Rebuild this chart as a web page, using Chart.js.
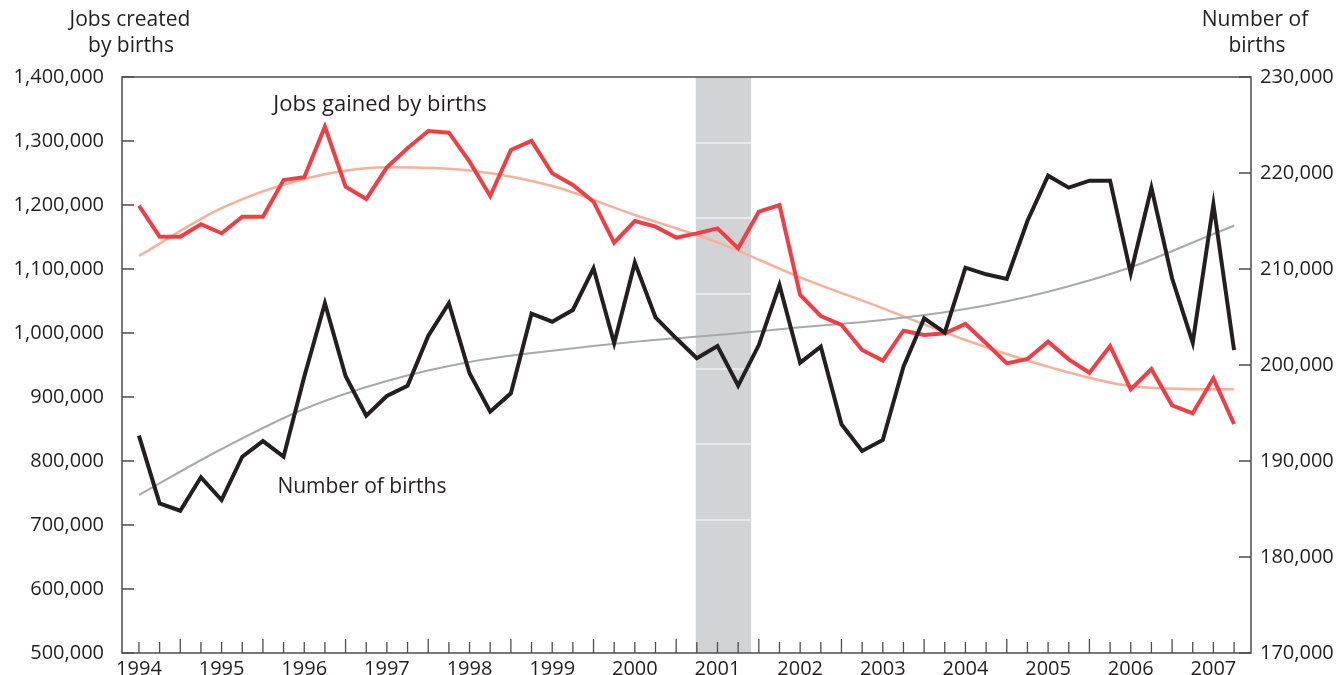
<!DOCTYPE html>
<html>
<head>
<meta charset="utf-8">
<script src="https://cdn.jsdelivr.net/npm/chart.js@4/dist/chart.umd.min.js"></script>
<style>
  html, body { margin: 0; padding: 0; background: #fff; }
  #wrap { width: 1344px; height: 675px; position: relative; }
</style>
</head>
<body>
<div id="wrap"><canvas id="chart"></canvas></div>
<script>
// year labels, one per four quarters (1994 Q1 ... 2007 Q2)
var yearLabels = ['1994', '1995', '1996', '1997', '1998', '1999', '2000',
                  '2001', '2002', '2003', '2004', '2005', '2006', '2007'];

// jobs created by establishment births (left axis), quarterly
var jobsGained = [
    1199000, 1150500, 1150500, 1169900, 1155800, 1181800, 1181800, 1239000,
    1243300, 1322400, 1228700, 1209400, 1258900, 1288600, 1315600, 1313000,
    1267700, 1214100, 1285900, 1300300, 1249500, 1231300, 1205200, 1141100,
    1175000, 1166100, 1149000, 1155700, 1163500, 1132300, 1189600, 1200000,
    1059400, 1026600, 1012500, 973400, 956800, 1003600, 996900, 999500,
    1014100, 983900, 952600, 959400, 986500, 958900, 937900, 979700,
    912000, 943750, 887000, 874500, 929200, 857800
];

// number of establishment births (right axis), quarterly
var births = [
    192640, 185590, 184820, 188300, 185940, 190450, 192080, 190450,
    198780, 206430, 198850, 194720, 196770, 197840, 203020, 206430,
    199140, 195140, 197050, 205350, 204510, 205730, 210070, 202260,
    210660, 204970, 202780, 200700, 201980, 197840, 202080, 208330,
    200240, 201910, 193820, 191040, 192190, 199830, 204860, 203370,
    210140, 209450, 208960, 215000, 219720, 218470, 219200, 219200,
    209550, 218470, 209030, 202330, 216740, 201560
];

// trend lines, read at every fourth quarter
var trendQuarters = [0, 4, 8, 12, 16, 20, 24, 28, 32, 36, 40, 44, 48, 52, 53];
var jobsTrend = [1120300, 1195000, 1240600, 1258900, 1253900, 1229700, 1184400,
                 1141700, 1087000, 1038600, 989000, 947400, 917200, 912000, 912000];
var birthsTrend = [186460, 191250, 195420, 198330, 200310, 201490, 202430,
                   203120, 203930, 204690, 205830, 207640, 210180, 213650, 214510];

// 2001 recession band, in quarter positions
var recession = [26.95, 29.63];
var bandLines = [1296900, 1179700, 1060900, 943750, 826600, 707800];

var leftTicks = [500000, 600000, 700000, 800000, 900000, 1000000, 1100000, 1200000, 1300000, 1400000];
var rightTicks = [170000, 180000, 190000, 200000, 210000, 220000, 230000];

var FONT = '"Open Sans", "Noto Sans", sans-serif';
var INK = '#231f20';
var FRAME = '#4d4d4f';

var quarters = jobsGained.map(function(_, i) { return i; });

function pts(values, xs) {
    return values.map(function(v, i) { return {x: xs ? xs[i] : i, y: v}; });
}

// fixed axis sizes; y axes must not push the plot area in
function fixWidth(w) {
    return function(scale) {
        scale.width = w;
        scale.paddingTop = 0;
        scale.paddingBottom = 0;
    };
}

var decorPlugin = {
    id: 'decor',
    beforeDatasetsDraw: function(chart) {
        var ctx = chart.ctx, a = chart.chartArea;
        var x = chart.scales.x, yl = chart.scales.yLeft;
        var x0 = x.getPixelForValue(recession[0]);
        var x1 = x.getPixelForValue(recession[1]);
        ctx.save();
        ctx.fillStyle = '#d1d3d4';
        ctx.fillRect(x0, a.top, x1 - x0, a.bottom - a.top);
        ctx.strokeStyle = '#ffffff';
        ctx.lineWidth = 1.2;
        bandLines.forEach(function(v) {
            var y = yl.getPixelForValue(v);
            ctx.beginPath();
            ctx.moveTo(x0, y);
            ctx.lineTo(x1, y);
            ctx.stroke();
        });
        ctx.restore();
    },
    afterDraw: function(chart) {
        var ctx = chart.ctx, a = chart.chartArea;
        var x = chart.scales.x, yl = chart.scales.yLeft, yr = chart.scales.yRight;
        ctx.save();
        ctx.strokeStyle = FRAME;
        ctx.lineWidth = 1.5;
        ctx.strokeRect(a.left, a.top, a.right - a.left, a.bottom - a.top);

        // inward tick marks
        ctx.lineWidth = 1.3;
        ctx.beginPath();
        leftTicks.forEach(function(v) {
            var y = yl.getPixelForValue(v);
            ctx.moveTo(a.left, y); ctx.lineTo(a.left + 12, y);
        });
        rightTicks.forEach(function(v) {
            var y = yr.getPixelForValue(v);
            ctx.moveTo(a.right - 12, y); ctx.lineTo(a.right, y);
        });
        quarters.forEach(function(q) {
            var px = x.getPixelForValue(q);
            var len = (q % 4 === 2) ? 14 : 11;
            ctx.moveTo(px, a.bottom); ctx.lineTo(px, a.bottom - len);
        });
        ctx.stroke();

        // axis titles and series labels
        ctx.fillStyle = INK;
        ctx.font = '21px ' + FONT;
        ctx.textBaseline = 'middle';
        ctx.textAlign = 'center';
        ctx.fillText('Jobs created', 130, 20);
        ctx.fillText('by births', 131, 46);
        ctx.fillText('Number of', 1255, 20);
        ctx.fillText('births', 1257, 46);

        ctx.textAlign = 'left';
        ctx.font = '22px ' + FONT;
        ctx.fillText('Jobs gained by births', x.getPixelForValue(6.5), yl.getPixelForValue(1357000));
        ctx.font = '21px ' + FONT;
        ctx.fillText('Number of births', x.getPixelForValue(6.7), yl.getPixelForValue(759000));
        ctx.restore();
    }
};

var tickFont = { family: FONT, size: 20 };

var ctx = document.getElementById('chart').getContext('2d');
new Chart(ctx, {
    type: 'line',
    data: {
        datasets: [
            {
                label: 'Number of births',
                data: pts(births),
                yAxisID: 'yRight',
                borderColor: INK,
                borderWidth: 4,
                pointRadius: 0,
                tension: 0,
                borderJoinStyle: 'miter'
            },
            {
                label: 'Jobs gained by births',
                data: pts(jobsGained),
                yAxisID: 'yLeft',
                borderColor: '#ef3e45',
                borderWidth: 4,
                pointRadius: 0,
                tension: 0,
                borderJoinStyle: 'miter'
            },
            {
                label: 'Births trend',
                data: pts(birthsTrend, trendQuarters),
                yAxisID: 'yRight',
                borderColor: '#a7a9ac',
                borderWidth: 2,
                pointRadius: 0,
                cubicInterpolationMode: 'monotone'
            },
            {
                label: 'Jobs trend',
                data: pts(jobsTrend, trendQuarters),
                yAxisID: 'yLeft',
                borderColor: '#f9b09a',
                borderWidth: 2.5,
                pointRadius: 0,
                cubicInterpolationMode: 'monotone'
            }
        ]
    },
    options: {
        responsive: true,
        maintainAspectRatio: false,
        animation: false,
        layout: { padding: { top: 77, left: 0, right: 0, bottom: 0 } },
        plugins: {
            legend: { display: false },
            tooltip: { enabled: false },
            title: { display: false }
        },
        scales: {
            x: {
                type: 'linear',
                min: -0.82,
                max: 53.82,
                grid: { display: false, tickLength: 0 },
                border: { display: false },
                afterBuildTicks: function(scale) {
                    scale.ticks = quarters.map(function(q) { return {value: q}; });
                },
                afterFit: function(scale) {
                    scale.height = 22;
                    scale.paddingLeft = 0;
                    scale.paddingRight = 0;
                },
                ticks: {
                    autoSkip: false,
                    maxRotation: 0,
                    minRotation: 0,
                    padding: 4,
                    color: INK,
                    font: tickFont,
                    callback: function(v) {
                        return v % 4 === 0 ? yearLabels[v / 4] : '';
                    }
                }
            },
            yLeft: {
                position: 'left',
                min: 500000,
                max: 1400000,
                grid: { display: false, tickLength: 0 },
                border: { display: false },
                afterBuildTicks: function(scale) {
                    scale.ticks = leftTicks.map(function(v) { return {value: v}; });
                },
                afterFit: fixWidth(122),
                ticks: {
                    padding: 18,
                    color: INK,
                    font: tickFont,
                    callback: function(v) { return v.toLocaleString('en-US'); }
                }
            },
            yRight: {
                position: 'right',
                min: 170000,
                max: 230000,
                grid: { display: false, tickLength: 0 },
                border: { display: false },
                afterBuildTicks: function(scale) {
                    scale.ticks = rightTicks.map(function(v) { return {value: v}; });
                },
                afterFit: fixWidth(93),
                ticks: {
                    padding: 9,
                    color: INK,
                    font: tickFont,
                    callback: function(v) { return v.toLocaleString('en-US'); }
                }
            }
        }
    },
    plugins: [decorPlugin]
});
</script>
</body>
</html>
